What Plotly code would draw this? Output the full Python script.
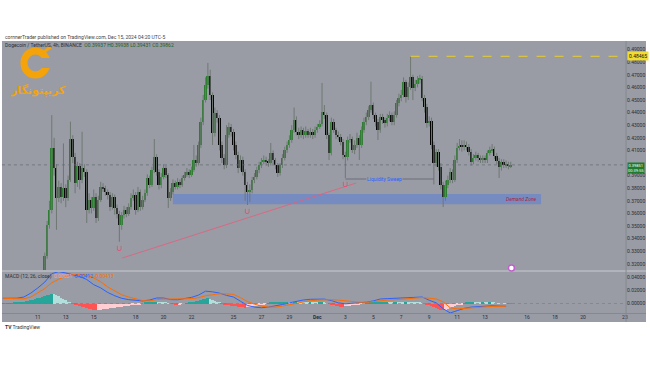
import plotly.graph_objects as go
import pandas as pd

# ---------------- DATA ----------------
candle_start = "2024-11-11 12:00"   # 4h candles
first_open = 0.3150
closes = [
 0.3262,0.3508,0.3627,0.4119,0.3960,0.3720,0.3810,0.3733,0.3800,0.3720,
 0.3865,0.4190,0.4050,0.3840,0.3976,0.3865,0.3960,0.3931,0.3627,0.3706,
 0.3643,0.3730,0.3563,0.3706,0.3807,0.3800,0.3772,0.3746,0.3653,0.3728,
 0.3640,0.3595,0.3508,0.3587,0.3627,0.3595,0.3653,0.3720,0.3746,0.3627,
 0.3772,0.3653,0.3706,0.3760,0.3879,0.3825,0.3944,0.4045,0.3931,0.3825,
 0.3891,0.3958,0.3905,0.3720,0.3772,0.3839,0.3812,0.3852,0.3825,0.3879,
 0.3905,0.3931,0.3905,0.3944,0.4024,0.4000,0.4143,0.4325,0.4500,0.4619,
 0.4690,0.4540,0.4238,0.4397,0.4357,0.4143,0.4040,0.3984,0.4222,0.4286,
 0.4246,0.4143,0.4063,0.3960,0.4024,0.3929,0.3825,0.3770,0.3786,0.3865,
 0.3889,0.3944,0.3984,0.4008,0.4024,0.4008,0.4000,0.4079,0.4024,0.3984,
 0.3921,0.3984,0.4040,0.4103,0.4143,0.4183,0.4262,0.4341,0.4246,0.4222,
 0.4262,0.4222,0.4254,0.4222,0.4246,0.4222,0.4262,0.4286,0.4310,0.4405,
 0.4381,0.4222,0.4079,0.4325,0.4262,0.4222,0.4206,0.4167,0.4063,0.4048,
 0.4183,0.4190,0.4103,0.4143,0.4198,0.4143,0.4262,0.4325,0.4365,0.4421,
 0.4460,0.4381,0.4325,0.4262,0.4365,0.4341,0.4317,0.4357,0.4381,0.4325,
 0.4381,0.4476,0.4516,0.4540,0.4643,0.4524,0.4603,0.4683,0.4595,0.4627,
 0.4659,0.4667,0.4516,0.4444,0.4317,0.4333,0.4143,0.4000,0.4087,0.3968,
 0.3825,0.3730,0.3825,0.3865,0.3929,0.3865,0.4024,0.4119,0.4135,0.4127,
 0.4143,0.4127,0.4087,0.4008,0.4040,0.4063,0.4040,0.4024,0.4032,0.4024,
 0.4079,0.4103,0.4111,0.4056,0.4016,0.3968,0.4008,0.3984,0.3992,0.3976,
 0.3985]
highs = [
 0.3290,0.3540,0.3700,0.4380,0.4200,0.3990,0.3860,0.3840,0.4155,0.3830,
 0.3900,0.4328,0.4220,0.4080,0.4010,0.4000,0.4248,0.3990,0.3950,0.3760,
 0.3730,0.3790,0.3760,0.3740,0.3850,0.3840,0.3820,0.3790,0.3770,0.3760,
 0.3750,0.3670,0.3620,0.3610,0.3660,0.3650,0.3680,0.3760,0.3790,0.3770,
 0.3810,0.3790,0.3740,0.3790,0.3910,0.3900,0.3970,0.4190,0.4070,0.3950,
 0.3920,0.3990,0.3980,0.3920,0.3800,0.3870,0.3860,0.3880,0.3870,0.3900,
 0.3930,0.3960,0.3950,0.3970,0.4143,0.4060,0.4170,0.4360,0.4540,0.4680,
 0.4794,0.4740,0.4560,0.4440,0.4420,0.4380,0.4170,0.4070,0.4300,0.4320,
 0.4310,0.4270,0.4170,0.4090,0.4060,0.4050,0.3950,0.3850,0.3830,0.3890,
 0.3920,0.3970,0.4010,0.4040,0.4060,0.4050,0.4030,0.4159,0.4100,0.4040,
 0.4000,0.4000,0.4070,0.4130,0.4170,0.4220,0.4300,0.4440,0.4370,0.4280,
 0.4290,0.4280,0.4290,0.4270,0.4280,0.4270,0.4290,0.4310,0.4340,0.4635,
 0.4460,0.4400,0.4240,0.4360,0.4350,0.4280,0.4250,0.4230,0.4190,0.4090,
 0.4210,0.4230,0.4210,0.4180,0.4240,0.4220,0.4290,0.4360,0.4400,0.4450,
 0.4645,0.4480,0.4400,0.4350,0.4390,0.4390,0.4360,0.4390,0.4410,0.4400,
 0.4410,0.4500,0.4550,0.4580,0.4680,0.4660,0.4640,0.4845,0.4700,0.4660,
 0.4690,0.4700,0.4690,0.4540,0.4470,0.4370,0.4360,0.4170,0.4110,0.4110,
 0.4000,0.3850,0.3860,0.3900,0.3960,0.3950,0.4060,0.4160,0.4190,0.4180,
 0.4180,0.4170,0.4150,0.4110,0.4070,0.4090,0.4080,0.4060,0.4060,0.4060,
 0.4100,0.4130,0.4150,0.4130,0.4080,0.4040,0.4030,0.4030,0.4020,0.4010,
 0.4010]
lows = [
 0.3120,0.3240,0.3480,0.3600,0.3900,0.3470,0.3690,0.3680,0.3700,0.3650,
 0.3700,0.3850,0.4000,0.3760,0.3810,0.3790,0.3840,0.3890,0.3524,0.3600,
 0.3600,0.3620,0.3524,0.3540,0.3690,0.3770,0.3740,0.3710,0.3620,0.3630,
 0.3590,0.3560,0.3375,0.3470,0.3560,0.3570,0.3580,0.3630,0.3700,0.3590,
 0.3610,0.3620,0.3630,0.3690,0.3740,0.3800,0.3810,0.3920,0.3900,0.3790,
 0.3800,0.3870,0.3880,0.3643,0.3700,0.3750,0.3790,0.3790,0.3800,0.3810,
 0.3860,0.3890,0.3880,0.3890,0.3930,0.3970,0.3980,0.4120,0.4300,0.4480,
 0.4590,0.4500,0.4143,0.4210,0.4320,0.4100,0.4000,0.3950,0.3960,0.4200,
 0.4210,0.4100,0.4030,0.3920,0.3940,0.3900,0.3700,0.3667,0.3690,0.3760,
 0.3840,0.3870,0.3920,0.3960,0.3990,0.3980,0.3970,0.3980,0.3990,0.3950,
 0.3890,0.3900,0.3960,0.4020,0.4080,0.4120,0.4160,0.4240,0.4220,0.4190,
 0.4200,0.4190,0.4200,0.4200,0.4200,0.4190,0.4200,0.4240,0.4270,0.4290,
 0.4350,0.4190,0.4024,0.4060,0.4240,0.4190,0.4180,0.4140,0.4030,0.3881,
 0.4020,0.4160,0.4080,0.4070,0.4120,0.4024,0.4120,0.4240,0.4300,0.4340,
 0.4400,0.4350,0.4290,0.4183,0.4240,0.4310,0.4280,0.4290,0.4330,0.4300,
 0.4300,0.4360,0.4450,0.4490,0.4520,0.4480,0.4500,0.4580,0.4500,0.4570,
 0.4600,0.4630,0.4490,0.4400,0.4280,0.4290,0.4110,0.3830,0.3970,0.3940,
 0.3790,0.3651,0.3700,0.3800,0.3840,0.3840,0.3850,0.4000,0.4100,0.4090,
 0.4100,0.4100,0.4060,0.3980,0.3990,0.4020,0.4010,0.4000,0.4000,0.4000,
 0.4000,0.4060,0.4080,0.4030,0.3990,0.3881,0.3940,0.3960,0.3960,0.3950,
 0.3960]

macd_start = "2024-11-08 12:00"   # histogram: 4h bars, lines: sampled every 12h
macd_hist = [
 0.0002,-0.0002,0.0002,0.0003,0.0005,
 0.0010,0.0015,0.0020,0.0025,0.0030,0.0038,0.0045,0.0055,0.0060,
 0.0070,0.0080,0.0090,0.0100,0.0110,0.0125,0.0135,
 0.0150,0.0140,0.0125,0.0110,0.0090,0.0070,0.0050,0.0030,0.0012,
 -0.0005,-0.0015,-0.0025,-0.0035,-0.0050,-0.0060,-0.0070,-0.0080,-0.0088,-0.0095,-0.0100,
 -0.0098,-0.0095,-0.0090,-0.0085,-0.0080,-0.0075,-0.0070,-0.0065,-0.0060,-0.0055,
 -0.0050,-0.0045,-0.0040,-0.0035,-0.0030,-0.0025,-0.0020,-0.0015,-0.0010,
 0.0000,0.0008,0.0012,0.0015,0.0020,0.0022,0.0025,0.0022,0.0018,0.0012,0.0008,0.0004,0.0000,-0.0004,
 -0.0008,-0.0012,-0.0010,-0.0006,-0.0002,0.0003,0.0008,
 0.0015,0.0025,0.0035,0.0045,0.0055,0.0065,0.0075,0.0080,0.0070,0.0060,
 0.0045,0.0030,0.0012,
 -0.0005,-0.0012,-0.0020,-0.0027,-0.0034,-0.0040,-0.0045,-0.0050,-0.0054,-0.0058,-0.0062,
 -0.0060,-0.0055,-0.0050,-0.0043,-0.0036,-0.0028,-0.0020,-0.0012,-0.0005,
 0.0003,0.0008,0.0012,0.0015,0.0018,0.0022,0.0025,0.0028,0.0030,0.0028,0.0026,0.0030,0.0032,
 0.0030,0.0028,0.0025,0.0022,0.0020,0.0022,0.0020,0.0018,0.0015,0.0015,0.0018,0.0012,0.0005,-0.0005,
 -0.0015,-0.0025,-0.0035,-0.0042,-0.0048,-0.0050,-0.0045,-0.0040,-0.0035,-0.0028,-0.0022,-0.0016,-0.0010,-0.0006,-0.0002,
 0.0002,0.0005,0.0008,0.0010,0.0012,0.0015,
 0.0020,0.0022,0.0025,0.0026,0.0025,0.0022,0.0024,0.0026,0.0025,0.0022,0.0020,0.0022,0.0020,
 0.0018,0.0016,0.0014,0.0012,0.0010,0.0005,0.0000,
 -0.0015,-0.0030,-0.0045,-0.0060,-0.0072,-0.0085,-0.0095,-0.0105,
 -0.0095,-0.0085,-0.0070,-0.0055,-0.0040,-0.0028,-0.0018,-0.0010,
 0.0003,0.0008,0.0012,0.0015,0.0016,0.0015,0.0014,0.0012,0.0012,0.0011,0.0010,0.0010,0.0009,0.0008,0.0006,0.0004,0.0003,0.0002,0.0001,-0.0001,-0.0002]
macd_line = [
 0.0080,0.0080,0.0082,0.0100,0.0160,0.0240,0.0330,0.0460,0.0490,0.0470,
 0.0440,0.0415,0.0370,0.0290,0.0240,0.0170,0.0120,0.0080,0.0060,0.0045,
 0.0040,0.0054,0.0085,0.0085,0.0060,0.0058,0.0075,0.0095,0.0130,0.0190,
 0.0180,0.0160,0.0125,0.0100,0.0035,-0.0030,-0.0055,-0.0065,-0.0055,-0.0040,
 -0.0015,0.0010,0.0035,0.0055,0.0065,0.0068,0.0068,0.0045,0.0010,-0.0005,
 0.0000,0.0005,0.0020,0.0040,0.0070,0.0075,0.0080,0.0090,0.0100,0.0105,
 0.0100,0.0050,0.0010,-0.0080,-0.0145,-0.0110,-0.0075,-0.0055,-0.0045,-0.0040,
 -0.0035,-0.0040,-0.0042]
signal_line = [
 0.0080,0.0078,0.0070,0.0072,0.0100,0.0160,0.0230,0.0320,0.0375,0.0415,
 0.0445,0.0448,0.0437,0.0395,0.0335,0.0255,0.0190,0.0135,0.0100,0.0068,
 0.0045,0.0040,0.0060,0.0068,0.0070,0.0068,0.0068,0.0075,0.0090,0.0120,
 0.0135,0.0150,0.0148,0.0140,0.0090,0.0030,-0.0010,-0.0040,-0.0055,-0.0055,
 -0.0040,-0.0020,0.0003,0.0028,0.0045,0.0052,0.0056,0.0060,0.0052,0.0040,
 0.0035,0.0021,0.0018,0.0030,0.0050,0.0052,0.0057,0.0065,0.0080,0.0089,
 0.0092,0.0082,0.0070,0.0025,-0.0065,-0.0083,-0.0078,-0.0070,-0.0060,-0.0052,
 -0.0045,-0.0044,-0.0043]

tick_dates = ["2024-11-11","2024-11-13","2024-11-15","2024-11-18","2024-11-20","2024-11-22",
              "2024-11-25","2024-11-27","2024-11-29","2024-12-01","2024-12-03","2024-12-05",
              "2024-12-07","2024-12-09","2024-12-11","2024-12-13","2024-12-16","2024-12-18",
              "2024-12-20","2024-12-23"]
tick_labels = ["11","13","15","18","20","22","25","27","29","<b>Dec</b>","3","5","7","9","11","13",
               "16","18","20","23"]
# 0.40000 is hidden behind the last-price label in the reference
price_ticks = [0.32,0.33,0.34,0.35,0.36,0.37,0.38,0.39,0.41,0.42,0.43,0.44,0.45,0.46,0.47,0.48,0.49]
macd_ticks = [0.0, 0.02, 0.04]

# drawing annotations (levels)
zone_top, zone_bottom = 0.3754, 0.3672
zone_start, zone_end = "2024-11-20 16:00", "2024-12-17 00:00"
ath_level = 0.48465
last_price = 0.39851
trend_start, trend_end = ("2024-11-17 01:00", 0.3246), ("2024-12-03 18:40", 0.3841)
sweep_level = 0.3873
sweep_candle, sweep_end_candle = 129, 167
sweep_marks = [32, 87, 129]
ath_candle = 157

# ---------------- BUILD ----------------
W, H = 650, 365
def px(x): return x / W
def py(y): return 1 - y / H

times = pd.date_range(candle_start, periods=len(closes), freq="4h")
opens = [first_open] + closes[:-1]
body_base = [min(o, c) for o, c in zip(opens, closes)]
body_h = [max(abs(c - o), 0.0004) for o, c in zip(opens, closes)]
body_col = ["#2e7d32" if c >= o else "#050505" for o, c in zip(opens, closes)]

wick_x, wick_y = [], []
for t, h, l in zip(times, highs, lows):
    wick_x += [t, t, None]
    wick_y += [l, h, None]

h_times = pd.date_range(macd_start, periods=len(macd_hist), freq="4h")
l_times = pd.date_range(macd_start, periods=len(macd_line), freq="12h")
h_cols = []
prev = 0.0
for v in macd_hist:
    if v >= 0:
        h_cols.append("#26a69a" if v >= prev else "#b2dfdb")
    else:
        h_cols.append("#ff5252" if v <= prev else "#ffcdd2")
    prev = v

BG = "#999ca5"
ORANGE = "#f5a30a"
fig = go.Figure()

# wicks
fig.add_trace(go.Scatter(x=wick_x, y=wick_y, mode="lines", line=dict(color="#6f7873", width=1),
                         hoverinfo="skip", xaxis="x", yaxis="y"))
# bodies
fig.add_trace(go.Bar(
    x=times, y=body_h, base=body_base, width=4 * 3600 * 1000 * 0.85,
    marker=dict(color=body_col, line=dict(width=0)), xaxis="x", yaxis="y", hoverinfo="skip"))

# MACD
fig.add_trace(go.Bar(x=h_times, y=macd_hist, width=4 * 3600 * 1000 * 0.85,
                     marker=dict(color=h_cols, line=dict(width=0)), xaxis="x2", yaxis="y2"))
fig.add_trace(go.Scatter(x=l_times, y=macd_line, mode="lines",
                         line=dict(color="#2962ff", width=1), xaxis="x2", yaxis="y2"))
fig.add_trace(go.Scatter(x=l_times, y=signal_line, mode="lines",
                         line=dict(color="#ff6d00", width=1), xaxis="x2", yaxis="y2"))

x_range = ["2024-11-08 10:30", "2024-12-23 02:00"]
dom_x = [px(2), px(628)]
axfont = dict(family="Roboto", size=5, color="#2a2e39")

shapes = [
    dict(type="rect", xref="paper", yref="paper", x0=px(2), x1=px(648), y0=py(322), y1=py(41),
         fillcolor=BG, line=dict(width=0), layer="below"),
    dict(type="line", xref="paper", yref="paper", x0=px(2), x1=px(648), y0=py(271), y1=py(271),
         line=dict(color="#c9cbd1", width=1)),
    dict(type="line", xref="paper", yref="paper", x0=px(2), x1=px(648), y0=py(313.5), y1=py(313.5),
         line=dict(color="#85888f", width=1)),
    dict(type="line", xref="paper", yref="paper", x0=px(628), x1=px(628), y0=py(322), y1=py(41),
         line=dict(color="#85888f", width=1)),
    # demand zone
    dict(type="rect", xref="x", yref="y", x0=zone_start, x1=zone_end, y0=zone_bottom, y1=zone_top,
         fillcolor="rgba(41,98,255,0.30)", line=dict(width=0), layer="below"),
    # last price line
    dict(type="line", xref="paper", yref="y", x0=px(2), x1=px(628), y0=last_price, y1=last_price,
         line=dict(color="rgba(100,104,112,0.7)", width=1, dash="dot")),
    # ATH dashed line
    dict(type="line", xref="x", yref="y", x0=times[ath_candle], x1=x_range[1], y0=ath_level, y1=ath_level,
         line=dict(color="#e8cf2a", width=1, dash="dash")),
    # trend line
    dict(type="line", xref="x", yref="y", x0=trend_start[0], y0=trend_start[1],
         x1=trend_end[0], y1=trend_end[1], line=dict(color="rgba(226,96,124,0.85)", width=1)),
    # liquidity sweep line
    dict(type="line", xref="x", yref="y", x0=times[sweep_candle], x1=times[sweep_end_candle],
         y0=sweep_level, y1=sweep_level, line=dict(color="#6a6e78", width=1)),
    # MACD zero line
    dict(type="line", xref="paper", yref="y2", x0=px(2), x1=px(628), y0=0, y1=0,
         line=dict(color="rgba(120,123,134,0.6)", width=1, dash="dot")),
    # event icon
    dict(type="circle", xref="paper", yref="paper", x0=px(510), x1=px(516), y0=py(271), y1=py(265),
         fillcolor="white", line=dict(color="#c05fce", width=1.5)),
    # logo "C" ring with an opening on the right
    dict(type="circle", xref="paper", yref="paper", x0=px(24), x1=px(47), y0=py(75), y1=py(51),
         line=dict(color=ORANGE, width=7)),
    dict(type="rect", xref="paper", yref="paper", x0=px(40), x1=px(52), y0=py(68), y1=py(58),
         fillcolor=BG, line=dict(width=0)),
    dict(type="line", xref="paper", yref="paper", x0=px(41), x1=px(51), y0=py(54), y1=py(47),
         line=dict(color=ORANGE, width=3)),
]

def ann(x, y, text, size=5, color="#2a2e39", xanchor="left", **kw):
    d = dict(xref="paper", yref="paper", x=px(x), y=py(y), text=text, showarrow=False,
             xanchor=xanchor, yanchor="middle", font=dict(family="Roboto", size=size, color=color))
    d.update(kw)
    return d

annotations = [
    ann(3, 37, "cornnerTrader published on TradingView.com, Dec 15, 2024 04:20 UTC-5", color="#444"),
    ann(3, 44.5, "Dogecoin / TetherUS, 4h, BINANCE  <span style='color:#1e5e26'>O0.39937 H0.39938 L0.39431 C0.39862</span>"),
    ann(3, 276.5, "MACD (12, 26, close)  <span style='color:#f4a3b3'>0.00001</span> "
                   "<span style='color:#2962ff'>-0.00412</span> <span style='color:#ff6d00'>-0.00413</span>"),
    ann(3, 327, "<b>TV</b> TradingView", color="#333"),
    # logo text
    dict(xref="paper", yref="paper", x=px(38), y=py(91), text="<b>کریپتونگار</b>", showarrow=False,
         font=dict(family="DejaVu Sans", size=11, color=ORANGE), xanchor="center", yanchor="middle"),
    # price labels
    dict(xref="paper", yref="y", x=px(629), y=ath_level, text="0.48465", showarrow=False,
         xanchor="left", yanchor="middle", bgcolor="#f1dc32", borderpad=1,
         font=dict(family="Roboto", size=5, color="#111")),
    dict(xref="paper", yref="y", x=px(629), y=last_price, text="0.39851<br>00:39:55", showarrow=False,
         xanchor="left", yanchor="top", yshift=3, bgcolor="#1f7a2e", borderpad=0,
         font=dict(family="Roboto", size=4, color="white")),
    # texts on drawings
    dict(xref="x", yref="y", x=times[(sweep_candle + sweep_end_candle) // 2 - 2], y=sweep_level,
         text="Liquidity Sweep", showarrow=False, bgcolor=BG, borderpad=0,
         font=dict(family="Roboto", size=5, color="#2962ff")),
    dict(xref="x", yref="y", x=zone_end, y=(zone_top + zone_bottom) / 2, text="<i>Demand Zone</i>",
         showarrow=False, xanchor="right", xshift=-2, font=dict(family="Roboto", size=5, color="#b0243f")),
]
for k in sweep_marks:
    annotations.append(dict(xref="x", yref="y", x=times[k], y=lows[k], text="∪", showarrow=False,
                            yanchor="top", yshift=1, font=dict(family="DejaVu Sans", size=9, color="#e04f78")))

fig.update_layout(
    width=W, height=H, margin=dict(l=0, r=0, t=0, b=0),
    paper_bgcolor="white", plot_bgcolor="rgba(0,0,0,0)",
    showlegend=False, barmode="overlay", bargap=0,
    shapes=shapes, annotations=annotations,
    xaxis=dict(domain=dom_x, range=x_range, type="date", anchor="y", showticklabels=False,
               showgrid=False, zeroline=False, showline=False),
    yaxis=dict(domain=[py(270), py(41)], range=[0.3151, 0.4968], side="right", anchor="x",
               tickvals=price_ticks, tickformat=".5f", tickfont=axfont, showgrid=False,
               zeroline=False, ticks="", showline=False),
    xaxis2=dict(domain=dom_x, range=x_range, type="date", anchor="y2", matches="x",
                tickvals=tick_dates, ticktext=tick_labels, tickfont=axfont, showgrid=False,
                zeroline=False, ticks="", showline=False),
    yaxis2=dict(domain=[py(313), py(272)], range=[-0.0146, 0.0485], side="right", anchor="x2",
                tickvals=macd_ticks, tickformat=".5f", tickfont=axfont, showgrid=False,
                zeroline=False, ticks="", showline=False),
)

fig.write_html("out.html", config={"displayModeBar": False},
               post_script="document.body.style.margin='0';document.body.style.padding='0';")
